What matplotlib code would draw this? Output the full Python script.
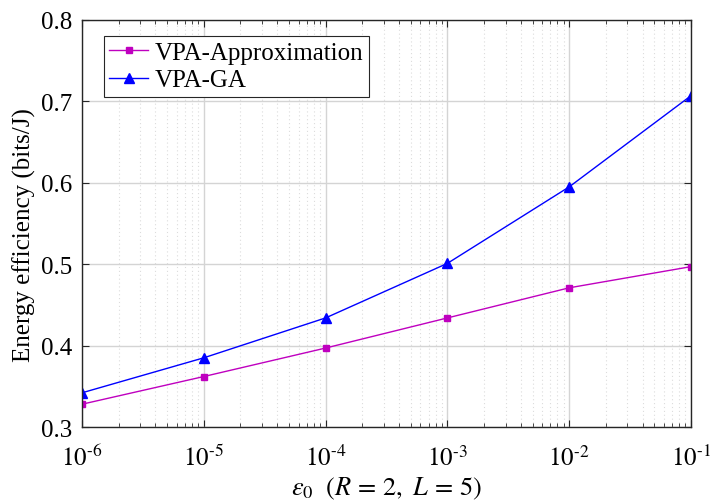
"""
Energy efficiency vs epsilon_0, VPA approximation vs GA.
"""
import matplotlib
matplotlib.use("Agg")
import matplotlib.pyplot as plt
from matplotlib.ticker import LogLocator, NullFormatter, FuncFormatter
import numpy as np

# donnees
eps0 = [1e-6, 1e-5, 1e-4, 1e-3, 1e-2, 1e-1]
ee_approx = [0.328, 0.362, 0.397, 0.434, 0.471, 0.497]
ee_ga = [0.342, 0.385, 0.434, 0.501, 0.595, 0.707]
y_ticks = [0.3, 0.4, 0.5, 0.6, 0.7, 0.8]

plt.rcParams['font.family'] = ['Liberation Serif', 'DejaVu Serif']
plt.rcParams['mathtext.fontset'] = 'stix'


def etiquette_log(x, pos):
    # tiret simple comme dans MATLAB, pas de signe moins
    e = int(round(np.log10(x)))
    s = str(e).replace('-', r'\text{-}')
    return r'$10^{%s}$' % s


fig = plt.figure(figsize=(7.11, 5.02), dpi=100)
ax = fig.add_axes([0.1153, 0.1474, 0.8566, 0.8108])

ax.plot(eps0, ee_approx, color='#bf00bf', lw=1.0, marker='s', ms=5,
        label='VPA-Approximation')
ax.plot(eps0, ee_ga, color='#0000ff', lw=1.0, marker='^', ms=7,
        label='VPA-GA')

ax.set_xscale('log')
ax.set_xlim(1e-6, 1e-1)
ax.set_ylim(0.3, 0.8)
ax.set_xticks(eps0)
ax.xaxis.set_major_formatter(FuncFormatter(etiquette_log))
ax.set_yticks(y_ticks)
ax.set_yticklabels([f"{v:.1f}" for v in y_ticks])
ax.xaxis.set_minor_locator(LogLocator(base=10, subs=range(2, 10), numticks=20))
ax.xaxis.set_minor_formatter(NullFormatter())

# grille style MATLAB
ax.grid(True, which='major', color='#d4d4d4', lw=1.0, ls='-')
ax.grid(True, which='minor', axis='x', color='#dcdcdc', lw=0.8, ls=(0, (1, 2.5)))
ax.set_axisbelow(True)

ax.tick_params(which='both', direction='in', top=True, right=True,
               labelsize=18, colors='#262626', labelcolor='black')
ax.tick_params(which='major', length=5, width=0.8)
ax.tick_params(which='minor', length=3, width=0.6)
ax.tick_params(axis='y', which='major', pad=7)
ax.tick_params(axis='x', which='major', pad=13)
for s in ax.spines.values():
    s.set_color('#262626')
    s.set_linewidth(1.0)

ax.set_xlabel(r'$\epsilon_0\ \ (R\,=\,2,\ L\,=\,5)$', fontsize=19, labelpad=3)
ax.set_ylabel('Energy efficiency (bits/J)', fontsize=18)
ax.yaxis.set_label_coords(-0.076, 0.474)

leg = ax.legend(loc='upper left', bbox_to_anchor=(0.036, 0.961), fontsize=18,
                fancybox=False, framealpha=1, edgecolor='#262626',
                borderpad=0.22, labelspacing=0.2, handlelength=1.55,
                handletextpad=0.25, borderaxespad=0)
leg.get_frame().set_linewidth(0.8)

fig.savefig('out.png', dpi=100)
